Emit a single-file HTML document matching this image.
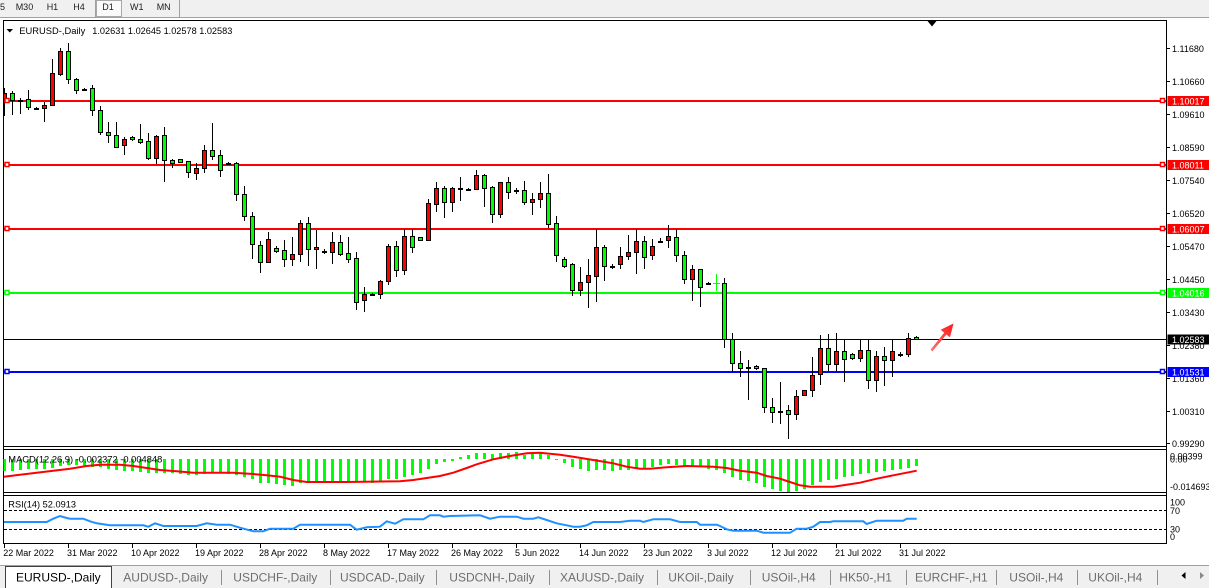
<!DOCTYPE html>
<html><head><meta charset="utf-8"><style>
html,body{margin:0;padding:0;background:#fff;width:1209px;height:588px;overflow:hidden}
svg{display:block;font-family:"Liberation Sans",Arial,sans-serif}
</style></head><body>
<svg width="1209" height="588" viewBox="0 0 1209 588" xmlns="http://www.w3.org/2000/svg">
<defs>
<clipPath id="cm"><rect x="4" y="21" width="1162" height="425"/></clipPath>
<linearGradient id="ag" x1="931" y1="351" x2="953" y2="323" gradientUnits="userSpaceOnUse"><stop offset="0" stop-color="#ff7070"/><stop offset="1" stop-color="#ff1a1a"/></linearGradient>
</defs>
<rect width="1209" height="588" fill="#fff"/>
<!-- toolbar -->
<rect x="0" y="0" width="1209" height="17" fill="#f0f0f0"/>
<line x1="0" y1="17.5" x2="1209" y2="17.5" stroke="#a0a0a0"/>
<rect x="96.5" y="0.5" width="25" height="16" fill="#fafafa" stroke="#a8a8a8"/>
<line x1="95.5" y1="0" x2="95.5" y2="17" stroke="#a0a0a0"/>
<line x1="179.5" y1="0" x2="179.5" y2="17" stroke="#a0a0a0"/>
<g font-size="9" fill="#202020">
<text x="0" y="10">5</text><text x="15.7" y="10">M30</text><text x="46.7" y="10">H1</text><text x="73.3" y="10">H4</text><text x="102.3" y="10">D1</text><text x="130" y="10">W1</text><text x="156.7" y="10">MN</text>
</g>
<!-- frames -->
<g stroke="#000" fill="none" stroke-width="1">
<line x1="3.5" y1="20.5" x2="1166.5" y2="20.5"/>
<line x1="3.5" y1="20" x2="3.5" y2="544"/>
<line x1="1166.5" y1="20" x2="1166.5" y2="544"/>
<line x1="3.5" y1="446.5" x2="1166.5" y2="446.5"/>
<line x1="3.5" y1="449.5" x2="1166.5" y2="449.5"/>
<line x1="3.5" y1="492.5" x2="1166.5" y2="492.5"/>
<line x1="3.5" y1="495.5" x2="1166.5" y2="495.5"/>
<line x1="3.5" y1="543.5" x2="1166.5" y2="543.5"/>
</g>
<!-- horizontal level lines -->
<g clip-path="url(#cm)">
<rect x="3.5" y="100" width="1163" height="2" fill="#ff0000"/>
<rect x="3.5" y="164" width="1163" height="2" fill="#ff0000"/>
<rect x="3.5" y="228" width="1163" height="2" fill="#ff0000"/>
<rect x="3.5" y="292" width="1163" height="2" fill="#00ff00"/>
<rect x="3.5" y="339" width="1163" height="1" fill="#000"/>
<rect x="3.5" y="371" width="1163" height="2" fill="#0000ff"/>
<!-- wicks -->
<path stroke="#000" stroke-width="1" fill="none" d="M4.5 88V116M12.5 91V115M20.5 98V114M28.5 90V110M36.5 107V110M44.5 102V122M52.5 59V106M60.5 48V76M68.5 43V84M76.5 78V94M84.5 88V90M92.5 85V116M100.5 106V135M108.5 122V143M116.5 122V148M124.5 137V155M132.5 136V141M140.5 124V144M148.5 133V160M156.5 135V164M164.5 127V182M172.5 159V168M180.5 159V163M188.5 161V178M196.5 163V180M204.5 145V173M212.5 123V160M220.5 150V177M228.5 162V165M236.5 162V201M244.5 186V221M252.5 212V259M260.5 241V273M268.5 232V263M276.5 246V253M284.5 240V267M292.5 237V266M300.5 220V262M308.5 217V266M316.5 230V269M324.5 249V254M332.5 232V264M340.5 235V256M348.5 237V263M356.5 252V310M364.5 287V312M372.5 293V295M380.5 280V299M388.5 244V285M396.5 241V277M404.5 229V275M412.5 229V253M420.5 237V241M428.5 199V241M436.5 182V212M444.5 186V218M452.5 187V212M460.5 177V201M468.5 188V191M476.5 170V190M484.5 174V207M492.5 186V223M500.5 182V218M508.5 177V199M516.5 188V194M524.5 181V205M532.5 193V215M540.5 182V208M548.5 174V228M556.5 216V262M564.5 257V268M572.5 263V296M580.5 267V296M588.5 259V308M596.5 229V302M604.5 245V281M612.5 264V269M620.5 247V269M628.5 235V260M636.5 229V274M644.5 236V269M652.5 239V260M660.5 238V242M668.5 225V248M676.5 229V262M684.5 251V284M692.5 265V301M700.5 269V307M708.5 282V285M724.5 278V348M732.5 333V372M740.5 351V377M748.5 360V400M756.5 365V370M764.5 368V413M772.5 398V423M780.5 382V424M788.5 405V439M796.5 390V420M804.5 390V396M812.5 357V397M820.5 335V385M828.5 334V371M836.5 333V371M844.5 339V382M852.5 353V360M860.5 339V362M868.5 339V389M876.5 351V392M884.5 347V386M892.5 339V377M900.5 352V357M908.5 333V357M916.5 336V340"/>
<!-- green doji -->
<path stroke="#00ff00" stroke-width="1" fill="none" d="M716.5 274V291M713 283.5H720"/>
<!-- bodies -->
<g stroke="#000" stroke-width="1">
<g fill="#ff0000">
<rect x="2.5" y="93.5" width="4" height="5"/><rect x="42.5" y="105.5" width="4" height="3"/><rect x="50.5" y="73.5" width="4" height="32"/><rect x="58.5" y="51.5" width="4" height="23"/><rect x="122.5" y="139.5" width="4" height="6"/><rect x="154.5" y="136.5" width="4" height="22"/><rect x="194.5" y="168.5" width="4" height="5"/><rect x="202.5" y="150.5" width="4" height="18"/><rect x="266.5" y="239.5" width="4" height="23"/><rect x="290.5" y="254.5" width="4" height="5"/><rect x="298.5" y="223.5" width="4" height="31"/><rect x="314.5" y="247.5" width="4" height="2"/><rect x="330.5" y="242.5" width="4" height="10"/><rect x="362.5" y="294.5" width="4" height="6"/><rect x="378.5" y="281.5" width="4" height="13"/><rect x="386.5" y="246.5" width="4" height="35"/><rect x="402.5" y="236.5" width="4" height="34"/><rect x="426.5" y="203.5" width="4" height="37"/><rect x="434.5" y="188.5" width="4" height="16"/><rect x="450.5" y="188.5" width="4" height="14"/><rect x="474.5" y="175.5" width="4" height="14"/><rect x="498.5" y="182.5" width="4" height="32"/><rect x="530.5" y="199.5" width="4" height="3"/><rect x="538.5" y="193.5" width="4" height="6"/><rect x="578.5" y="282.5" width="4" height="8"/><rect x="586.5" y="275.5" width="4" height="7"/><rect x="594.5" y="247.5" width="4" height="29"/><rect x="618.5" y="256.5" width="4" height="8"/><rect x="626.5" y="252.5" width="4" height="4"/><rect x="634.5" y="241.5" width="4" height="11"/><rect x="650.5" y="246.5" width="4" height="9"/><rect x="666.5" y="236.5" width="4" height="4"/><rect x="690.5" y="269.5" width="4" height="10"/><rect x="794.5" y="396.5" width="4" height="18"/><rect x="802.5" y="390.5" width="4" height="5"/><rect x="810.5" y="375.5" width="4" height="15"/><rect x="818.5" y="348.5" width="4" height="26"/><rect x="834.5" y="351.5" width="4" height="13"/><rect x="858.5" y="350.5" width="4" height="8"/><rect x="874.5" y="356.5" width="4" height="24"/><rect x="890.5" y="351.5" width="4" height="9"/><rect x="906.5" y="338.5" width="4" height="16"/>
</g>
<g fill="#00ff00">
<rect x="10.5" y="93.5" width="4" height="7"/><rect x="26.5" y="99.5" width="4" height="8"/><rect x="66.5" y="51.5" width="4" height="28"/><rect x="74.5" y="79.5" width="4" height="11"/><rect x="90.5" y="88.5" width="4" height="22"/><rect x="98.5" y="110.5" width="4" height="22"/><rect x="106.5" y="132.5" width="4" height="3"/><rect x="114.5" y="135.5" width="4" height="12"/><rect x="130.5" y="137.5" width="4" height="2"/><rect x="138.5" y="139.5" width="4" height="3"/><rect x="146.5" y="141.5" width="4" height="17"/><rect x="162.5" y="135.5" width="4" height="25"/><rect x="170.5" y="160.5" width="4" height="3"/><rect x="178.5" y="159.5" width="4" height="3"/><rect x="186.5" y="161.5" width="4" height="11"/><rect x="210.5" y="150.5" width="4" height="6"/><rect x="218.5" y="155.5" width="4" height="15"/><rect x="234.5" y="163.5" width="4" height="31"/><rect x="242.5" y="194.5" width="4" height="22"/><rect x="250.5" y="216.5" width="4" height="28"/><rect x="258.5" y="245.5" width="4" height="17"/><rect x="274.5" y="248.5" width="4" height="3"/><rect x="282.5" y="250.5" width="4" height="9"/><rect x="306.5" y="223.5" width="4" height="26"/><rect x="338.5" y="242.5" width="4" height="12"/><rect x="346.5" y="253.5" width="4" height="6"/><rect x="354.5" y="258.5" width="4" height="44"/><rect x="394.5" y="246.5" width="4" height="24"/><rect x="410.5" y="236.5" width="4" height="11"/><rect x="418.5" y="237.5" width="4" height="3"/><rect x="442.5" y="188.5" width="4" height="14"/><rect x="482.5" y="175.5" width="4" height="13"/><rect x="490.5" y="187.5" width="4" height="27"/><rect x="506.5" y="182.5" width="4" height="10"/><rect x="522.5" y="190.5" width="4" height="12"/><rect x="546.5" y="193.5" width="4" height="31"/><rect x="554.5" y="223.5" width="4" height="32"/><rect x="562.5" y="259.5" width="4" height="7"/><rect x="570.5" y="264.5" width="4" height="26"/><rect x="602.5" y="247.5" width="4" height="19"/><rect x="642.5" y="241.5" width="4" height="16"/><rect x="674.5" y="237.5" width="4" height="18"/><rect x="682.5" y="255.5" width="4" height="24"/><rect x="698.5" y="269.5" width="4" height="18"/><rect x="722.5" y="283.5" width="4" height="56"/><rect x="730.5" y="339.5" width="4" height="24"/><rect x="738.5" y="363.5" width="4" height="5"/><rect x="754.5" y="366.5" width="4" height="2"/><rect x="762.5" y="368.5" width="4" height="39"/><rect x="770.5" y="407.5" width="4" height="5"/><rect x="786.5" y="410.5" width="4" height="4"/><rect x="826.5" y="348.5" width="4" height="16"/><rect x="842.5" y="351.5" width="4" height="8"/><rect x="850.5" y="354.5" width="4" height="4"/><rect x="866.5" y="350.5" width="4" height="30"/><rect x="882.5" y="356.5" width="4" height="4"/><rect x="914.5" y="337.5" width="4" height="2"/>
</g>
<g fill="#000">
<rect x="18.5" y="100.5" width="4" height="1"/><rect x="34.5" y="108.5" width="4" height="1"/><rect x="82.5" y="89.5" width="4" height="1"/><rect x="226.5" y="163.5" width="4" height="1"/><rect x="322.5" y="251.5" width="4" height="1"/><rect x="370.5" y="294.5" width="4" height="1"/><rect x="458.5" y="188.5" width="4" height="1"/><rect x="466.5" y="189.5" width="4" height="1"/><rect x="514.5" y="190.5" width="4" height="1"/><rect x="610.5" y="266.5" width="4" height="1"/><rect x="658.5" y="241.5" width="4" height="1"/><rect x="706.5" y="283.5" width="4" height="1"/><rect x="746.5" y="367.5" width="4" height="1"/><rect x="778.5" y="411.5" width="4" height="1"/><rect x="898.5" y="354.5" width="4" height="1"/>
</g>
</g>
<!-- markers -->
<g fill="#fff" stroke-width="1.5">
<rect x="5" y="98.5" width="4" height="4" stroke="#f00"/><rect x="1160.5" y="98.5" width="4" height="4" stroke="#f00"/>
<rect x="5" y="162.5" width="4" height="4" stroke="#f00"/><rect x="1160.5" y="162.5" width="4" height="4" stroke="#f00"/>
<rect x="5" y="226.5" width="4" height="4" stroke="#f00"/><rect x="1160.5" y="226.5" width="4" height="4" stroke="#f00"/>
<rect x="5" y="290.5" width="4" height="4" stroke="#00ff00"/><rect x="1160.5" y="290.5" width="4" height="4" stroke="#00ff00"/>
<rect x="5" y="369.5" width="4" height="4" stroke="#00f"/><rect x="1160.5" y="369.5" width="4" height="4" stroke="#00f"/>
</g>
</g>
<!-- shift marker -->
<polygon points="927.5,21 936.5,21 932,26.5" fill="#000"/>
<!-- arrow -->
<polygon points="953.5,323.5 950,337.4 946.4,334.5 932.4,351.4 930.6,349.6 944.2,332.7 940.6,329.8" fill="url(#ag)"/>
<!-- legend -->
<polygon points="6.5,29 13,29 9.75,32.5" fill="#000"/>
<text x="19.3" y="34" font-size="9" fill="#000" textLength="66" lengthAdjust="spacingAndGlyphs">EURUSD-,Daily</text>
<text x="92.3" y="34" font-size="9" fill="#000" textLength="140" lengthAdjust="spacingAndGlyphs">1.02631 1.02645 1.02578 1.02583</text>
<!-- price axis -->
<g stroke="#000"><path d="M1167 48.5H1170M1167 81.5H1170M1167 114.5H1170M1167 147.5H1170M1167 180.5H1170M1167 213.5H1170M1167 246.5H1170M1167 279.5H1170M1167 312.5H1170M1167 345.5H1170M1167 378.5H1170M1167 411.5H1170M1167 443.5H1170"/></g>
<g font-size="9" fill="#000">
<text x="1172" y="52">1.11680</text><text x="1172" y="85">1.10660</text><text x="1172" y="118">1.09610</text><text x="1172" y="151">1.08590</text><text x="1172" y="184">1.07540</text><text x="1172" y="217">1.06520</text><text x="1172" y="250">1.05470</text><text x="1172" y="283">1.04450</text><text x="1172" y="316">1.03430</text><text x="1172" y="349">1.02380</text><text x="1172" y="382">1.01360</text><text x="1172" y="415">1.00310</text><text x="1172" y="447">0.99290</text>
</g>
<g>
<rect x="1167.5" y="96" width="42" height="10" fill="#ff0000"/>
<rect x="1167.5" y="160" width="42" height="10" fill="#ff0000"/>
<rect x="1167.5" y="224" width="42" height="10" fill="#ff0000"/>
<rect x="1167.5" y="288" width="42" height="10" fill="#00ff00"/>
<rect x="1167.5" y="334.5" width="42" height="10" fill="#000"/>
<rect x="1167.5" y="367" width="42" height="10" fill="#0000ff"/>
</g>
<g font-size="9" fill="#fff">
<text x="1172" y="104.5">1.10017</text><text x="1172" y="168.5">1.08011</text><text x="1172" y="232.5">1.06007</text><text x="1172" y="296.5">1.04016</text><text x="1172" y="343">1.02583</text><text x="1172" y="375.5">1.01531</text>
</g>
<!-- MACD histogram -->
<g fill="#00ff00">
<rect x="3.5" y="459" width="2.5" height="12"/><rect x="11" y="459" width="3" height="12"/><rect x="19" y="459" width="3" height="11"/><rect x="27" y="459" width="3" height="10"/><rect x="35" y="459" width="3" height="10"/><rect x="43" y="459" width="3" height="10"/><rect x="51" y="459" width="3" height="9"/><rect x="59" y="459" width="3" height="7"/><rect x="67" y="459" width="3" height="6"/><rect x="75" y="459" width="3" height="6"/><rect x="83" y="459" width="3" height="7"/><rect x="91" y="459" width="3" height="8"/><rect x="99" y="459" width="3" height="8"/><rect x="107" y="459" width="3" height="10"/><rect x="115" y="459" width="3" height="11"/><rect x="123" y="459" width="3" height="12"/><rect x="131" y="459" width="3" height="12"/><rect x="139" y="459" width="3" height="13"/><rect x="147" y="459" width="3" height="14"/><rect x="155" y="459" width="3" height="14"/><rect x="163" y="459" width="3" height="14"/><rect x="171" y="459" width="3" height="14"/><rect x="179" y="459" width="3" height="15"/><rect x="187" y="459" width="3" height="16"/><rect x="195" y="459" width="3" height="16"/><rect x="203" y="459" width="3" height="15"/><rect x="211" y="459" width="3" height="14"/><rect x="219" y="459" width="3" height="14"/><rect x="227" y="459" width="3" height="15"/><rect x="235" y="459" width="3" height="16"/><rect x="243" y="459" width="3" height="18"/><rect x="251" y="459" width="3" height="20"/><rect x="259" y="459" width="3" height="24"/><rect x="267" y="459" width="3" height="24"/><rect x="275" y="459" width="3" height="25"/><rect x="283" y="459" width="3" height="26"/><rect x="291" y="459" width="3" height="27"/><rect x="299" y="459" width="3" height="24"/><rect x="307" y="459" width="3" height="22"/><rect x="315" y="459" width="3" height="22"/><rect x="323" y="459" width="3" height="22"/><rect x="331" y="459" width="3" height="22"/><rect x="339" y="459" width="3" height="22"/><rect x="347" y="459" width="3" height="22"/><rect x="355" y="459" width="3" height="23"/><rect x="363" y="459" width="3" height="23"/><rect x="371" y="459" width="3" height="24"/><rect x="379" y="459" width="3" height="22"/><rect x="387" y="459" width="3" height="20"/><rect x="395" y="459" width="3" height="20"/><rect x="403" y="459" width="3" height="18"/><rect x="411" y="459" width="3" height="16"/><rect x="419" y="459" width="3" height="14"/><rect x="427" y="459" width="3" height="10"/><rect x="435" y="459" width="3" height="5"/><rect x="443" y="459" width="3" height="3"/><rect x="451" y="459" width="3" height="2"/>
<rect x="459" y="457" width="3" height="2"/><rect x="467" y="455" width="3" height="4"/><rect x="475" y="453" width="3" height="6"/><rect x="483" y="453" width="3" height="6"/><rect x="491" y="454" width="3" height="5"/><rect x="499" y="453" width="3" height="6"/><rect x="507" y="453" width="3" height="6"/><rect x="515" y="452" width="3" height="7"/><rect x="523" y="455" width="3" height="4"/><rect x="531" y="453" width="3" height="6"/><rect x="539" y="453" width="3" height="6"/><rect x="547" y="455" width="3" height="4"/>
<rect x="555" y="459" width="3" height="1"/><rect x="563" y="459" width="3" height="4"/><rect x="571" y="459" width="3" height="8"/><rect x="579" y="459" width="3" height="10"/><rect x="587" y="459" width="3" height="12"/><rect x="595" y="459" width="3" height="11"/><rect x="603" y="459" width="3" height="11"/><rect x="611" y="459" width="3" height="12"/><rect x="619" y="459" width="3" height="11"/><rect x="627" y="459" width="3" height="11"/><rect x="635" y="459" width="3" height="9"/><rect x="643" y="459" width="3" height="9"/><rect x="651" y="459" width="3" height="8"/><rect x="659" y="459" width="3" height="6"/><rect x="667" y="459" width="3" height="5"/><rect x="675" y="459" width="3" height="6"/><rect x="683" y="459" width="3" height="8"/><rect x="691" y="459" width="3" height="8"/><rect x="699" y="459" width="3" height="8"/><rect x="707" y="459" width="3" height="10"/><rect x="715" y="459" width="3" height="11"/><rect x="723" y="459" width="3" height="14"/><rect x="731" y="459" width="3" height="18"/><rect x="739" y="459" width="3" height="21"/><rect x="747" y="459" width="3" height="22"/><rect x="755" y="459" width="3" height="24"/><rect x="763" y="459" width="3" height="28"/><rect x="771" y="459" width="3" height="30"/><rect x="779" y="459" width="3" height="32"/><rect x="787" y="459" width="3" height="33"/><rect x="795" y="459" width="3" height="32"/><rect x="803" y="459" width="3" height="30"/><rect x="811" y="459" width="3" height="26"/><rect x="819" y="459" width="3" height="23"/><rect x="827" y="459" width="3" height="21"/><rect x="835" y="459" width="3" height="20"/><rect x="843" y="459" width="3" height="18"/><rect x="851" y="459" width="3" height="17"/><rect x="859" y="459" width="3" height="15"/><rect x="867" y="459" width="3" height="14"/><rect x="875" y="459" width="3" height="13"/><rect x="883" y="459" width="3" height="12"/><rect x="891" y="459" width="3" height="11"/><rect x="899" y="459" width="3" height="10"/><rect x="907" y="459" width="3" height="9"/><rect x="915" y="459" width="3" height="7"/>
</g>
<polyline fill="none" stroke="#ff0000" stroke-width="2" points="4,476.7 20,474.7 36.7,472.7 53.3,470.7 70,468.7 86.7,466 100,464.7 120,464.7 133.3,466 146.7,468 160,470 176.7,471.3 193.3,472.7 233.3,472.7 253.3,474 266.7,475.3 280,476.7 293.3,480 306.7,482 346.7,482 400,481.3 413.3,480 426.7,478 440,476 453.3,472.7 466.7,468 476.7,464.3 493.3,459.3 510,456 526.7,453.3 540,452.7 560,454.7 573.3,456.7 593.3,460 613.3,463.3 626.7,466.7 640,468.7 650,468.7 666.7,467.3 686.7,466 713.3,466.7 726.7,468 740,470.7 756.7,472.7 766.7,476 780,478.7 790,482 800,485.3 810,486.7 833.3,486.7 843.3,485.3 860,482.7 876.7,478.7 893.3,475.3 906.7,472.7 916.7,470.7"/>
<text x="8.3" y="462.5" font-size="9" fill="#000" textLength="154" lengthAdjust="spacingAndGlyphs">MACD(12,26,9) -0.002372 -0.004848</text>
<g font-size="9" fill="#000">
<text x="1170" y="459.3">0.00399</text><text x="1170" y="462.7">0.00</text><text x="1170" y="490">-0.014693</text>
</g>
<!-- RSI -->
<g stroke="#000" stroke-width="1" stroke-dasharray="3,2">
<line x1="4" y1="510.5" x2="1166" y2="510.5"/>
<line x1="4" y1="529.5" x2="1166" y2="529.5"/>
</g>
<polyline fill="none" stroke="#1e90ff" stroke-width="2" points="4,522 46.7,522 53.3,518.7 60,516 66.7,518 70,518.7 83.3,518.7 90,521.3 96.7,523.3 110,525.3 143.3,525.3 148.3,526.7 155,523.3 163.3,526 196.7,526 206.7,523.3 216.7,524.7 230,524.7 240,527.7 253.3,531.3 263.3,531.3 270,528.7 293.3,528.7 300,524.7 350,524.7 356.7,529.7 366.7,527.3 380,526.7 386.7,521.3 395,523.7 403.3,519.3 423.3,519.3 430,515.3 440,515.3 443.3,516.7 450,516 480,515.3 490,518.7 500,516.7 516.7,516.7 523.3,518.7 533.3,518.7 538.3,517.3 546.7,520 556.7,523.3 566.7,525.3 573.3,526.7 580,526.7 586.7,525.3 593.3,522 620,522 630,520.7 640,520.7 643.3,522 653.3,519.3 670,519.3 680,522 696.7,522 700,524.7 716.7,524.7 720,526 726.7,529.3 733.3,530.7 756.7,530.7 763.3,532.7 790,532.7 796.7,528.7 806.7,528.7 813.3,526.7 820,522 830,522 833.3,521.3 863.3,521.3 866.7,524 876.7,520.7 903.3,520.7 906.7,518.7 916.7,518.7"/>
<text x="8.3" y="507.5" font-size="9" fill="#000" textLength="67.7" lengthAdjust="spacingAndGlyphs">RSI(14) 52.0913</text>
<g font-size="9" fill="#000">
<text x="1170" y="505.5">100</text><text x="1170" y="514">70</text><text x="1170" y="532.5">30</text><text x="1170" y="540">0</text>
</g>
<!-- date axis -->
<path stroke="#000" d="M4.5 544V548M68.5 544V548M132.5 544V548M196.5 544V548M260.5 544V548M324.5 544V548M388.5 544V548M452.5 544V548M516.5 544V548M580.5 544V548M644.5 544V548M708.5 544V548M772.5 544V548M836.5 544V548M900.5 544V548"/>
<g font-size="9" fill="#000">
<text x="3.3" y="556">22 Mar 2022</text><text x="67" y="556">31 Mar 2022</text><text x="131" y="556">10 Apr 2022</text><text x="195" y="556">19 Apr 2022</text><text x="259" y="556">28 Apr 2022</text><text x="323" y="556">8 May 2022</text><text x="387" y="556">17 May 2022</text><text x="451" y="556">26 May 2022</text><text x="515" y="556">5 Jun 2022</text><text x="579" y="556">14 Jun 2022</text><text x="643" y="556">23 Jun 2022</text><text x="707" y="556">3 Jul 2022</text><text x="771" y="556">12 Jul 2022</text><text x="835" y="556">21 Jul 2022</text><text x="899" y="556">31 Jul 2022</text>
</g>
<!-- tabs -->
<rect x="0" y="565" width="1209" height="23" fill="#f0f0f0"/>
<line x1="0" y1="565.5" x2="1209" y2="565.5" stroke="#a0a0a0"/>
<rect x="5.5" y="566.5" width="106" height="22" fill="#fff" stroke="#404040"/>
<g stroke="#909090"><path d="M221.5 570V585M330.5 570V585M436.5 570V585M549.5 570V585M657.5 570V585M750.5 570V585M830.5 570V585M906.5 570V585M996.5 570V585M1077.5 570V585M1157.5 570V585"/></g>
<text x="16" y="581.5" font-size="12" fill="#000">EURUSD-,Daily</text>
<g font-size="12" fill="#6e6e6e">
<text x="123.3" y="581.5">AUDUSD-,Daily</text><text x="233.3" y="581.5">USDCHF-,Daily</text><text x="340" y="581.5">USDCAD-,Daily</text><text x="449.3" y="581.5">USDCNH-,Daily</text><text x="560" y="581.5">XAUUSD-,Daily</text><text x="668.3" y="581.5">UKOil-,Daily</text><text x="761.7" y="581.5">USOil-,H4</text><text x="839.3" y="581.5">HK50-,H1</text><text x="915" y="581.5">EURCHF-,H1</text><text x="1009.3" y="581.5">USOil-,H4</text><text x="1088.3" y="581.5">UKOil-,H4</text>
</g>
<polygon points="1181.5,575.5 1185.5,572 1185.5,579" fill="#000"/>
<polygon points="1204,575.5 1200,572 1200,579" fill="#8a8a8a"/>
</svg>
</body></html>
